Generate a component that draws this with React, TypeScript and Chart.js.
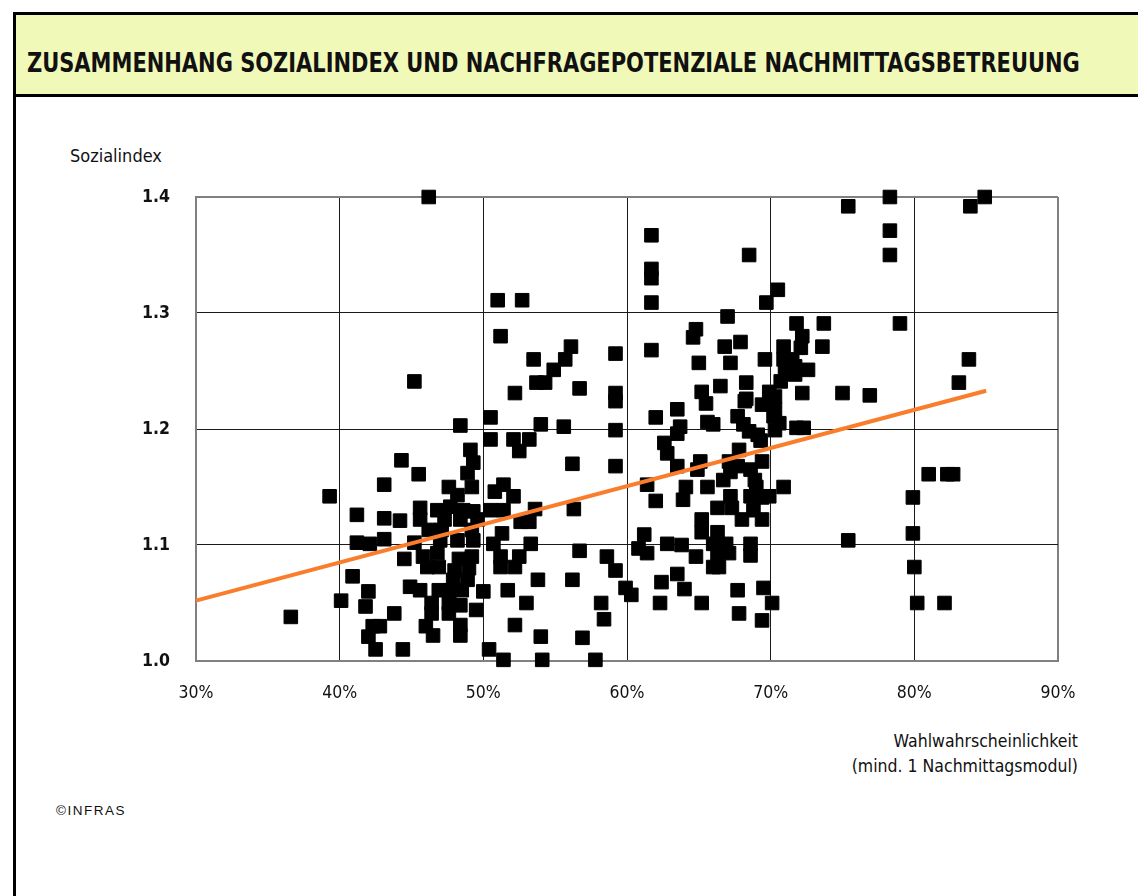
import React, { useEffect, useRef } from "react";
import { Chart, registerables } from "chart.js";

Chart.register(...registerables);

// Wahlwahrscheinlichkeit (%) per point
const xValues: number[] = [
  36.6, 39.3, 40.1, 40.9, 41.2, 41.2, 41.8, 42.0, 42.0, 42.1, 42.3, 42.5, 42.8, 43.1, 43.1, 43.1, 43.8, 44.2, 44.3, 44.4,
  44.5, 44.9, 45.2, 45.2, 45.5, 45.6, 45.6, 45.6, 45.8, 46.0, 46.1, 46.2, 46.2, 46.4, 46.4, 46.5, 46.8, 46.8, 46.9, 46.9,
  47.0, 47.1, 47.3, 47.6, 47.6, 47.6, 47.7, 47.7, 47.9, 48.0, 48.2, 48.2, 48.3, 48.4, 48.4, 48.4, 48.4, 48.4, 48.5, 48.6,
  48.9, 48.9, 49.0, 49.1, 49.2, 49.2, 49.2, 49.3, 49.3, 49.3, 49.5, 49.6, 50.0, 50.4, 50.5, 50.5, 50.5, 50.7, 50.8, 51.0,
  51.2, 51.2, 51.2, 51.3, 51.4, 51.4, 51.4, 51.7, 52.1, 52.1, 52.2, 52.2, 52.2, 52.5, 52.5, 52.6, 52.7, 53.0, 53.2, 53.2,
  53.3, 53.5, 53.6, 53.7, 53.8, 54.0, 54.0, 54.1, 54.3, 54.9, 55.6, 55.7, 56.1, 56.2, 56.2, 56.3, 56.7, 56.7, 56.9, 57.8,
  58.2, 58.4, 58.6, 59.2, 59.2, 59.2, 59.2, 59.2, 59.2, 59.9, 60.3, 60.8, 61.2, 61.4, 61.4, 61.7, 61.7, 61.7, 61.7, 61.7,
  62.0, 62.0, 62.3, 62.4, 62.6, 62.8, 62.8, 63.5, 63.5, 63.5, 63.5, 63.7, 63.8, 63.9, 64.0, 64.1, 64.6, 64.8, 64.8, 64.9,
  65.0, 65.1, 65.2, 65.2, 65.2, 65.2, 65.5, 65.6, 65.6, 66.0, 66.0, 66.0, 66.3, 66.3, 66.3, 66.4, 66.5, 66.7, 66.8, 66.9,
  67.0, 67.1, 67.1, 67.2, 67.2, 67.2, 67.3, 67.7, 67.7, 67.7, 67.8, 67.8, 67.9, 68.0, 68.1, 68.2, 68.3, 68.3, 68.5, 68.5,
  68.6, 68.6, 68.6, 68.6, 68.8, 68.9, 69.0, 69.1, 69.3, 69.4, 69.4, 69.4, 69.4, 69.4, 69.5, 69.6, 69.7, 69.9, 69.9, 70.1,
  70.2, 70.3, 70.3, 70.3, 70.5, 70.6, 70.7, 70.9, 70.9, 70.9, 71.0, 71.5, 71.7, 71.7, 71.8, 71.8, 72.1, 72.2, 72.2, 72.3,
  72.6, 73.6, 73.7, 75.0, 75.4, 75.4, 76.9, 78.3, 78.3, 78.3, 79.0, 79.9, 79.9, 80.0, 80.2, 81.0, 82.1, 82.3, 82.7, 83.1,
  83.8, 83.9, 84.9,
];

// Sozialindex per point
const yValues: number[] = [
  1.038, 1.142, 1.052, 1.073, 1.126, 1.102, 1.047, 1.060, 1.021, 1.101, 1.030, 1.010, 1.030, 1.152, 1.123, 1.105, 1.041, 1.121, 1.173, 1.010,
  1.088, 1.064, 1.241, 1.102, 1.161, 1.132, 1.122, 1.061, 1.090, 1.030, 1.081, 1.113, 1.400, 1.050, 1.041, 1.022, 1.130, 1.093, 1.081, 1.061,
  1.104, 1.113, 1.122, 1.150, 1.050, 1.041, 1.133, 1.061, 1.070, 1.078, 1.143, 1.104, 1.088, 1.203, 1.122, 1.048, 1.031, 1.022, 1.061, 1.130,
  1.162, 1.070, 1.080, 1.182, 1.150, 1.113, 1.090, 1.171, 1.129, 1.104, 1.044, 1.122, 1.060, 1.010, 1.210, 1.191, 1.130, 1.101, 1.146, 1.311,
  1.280, 1.090, 1.081, 1.110, 1.152, 1.130, 1.001, 1.061, 1.191, 1.142, 1.231, 1.081, 1.031, 1.181, 1.090, 1.120, 1.311, 1.050, 1.191, 1.120,
  1.101, 1.260, 1.131, 1.240, 1.070, 1.204, 1.021, 1.001, 1.240, 1.251, 1.202, 1.260, 1.271, 1.170, 1.070, 1.131, 1.235, 1.095, 1.020, 1.001,
  1.050, 1.036, 1.090, 1.265, 1.231, 1.224, 1.199, 1.168, 1.078, 1.063, 1.057, 1.097, 1.109, 1.093, 1.152, 1.367, 1.338, 1.330, 1.309, 1.268,
  1.210, 1.138, 1.050, 1.068, 1.188, 1.179, 1.101, 1.217, 1.196, 1.168, 1.075, 1.202, 1.100, 1.139, 1.062, 1.150, 1.279, 1.286, 1.090, 1.165,
  1.257, 1.172, 1.232, 1.111, 1.050, 1.122, 1.222, 1.206, 1.150, 1.204, 1.101, 1.081, 1.132, 1.111, 1.092, 1.081, 1.237, 1.156, 1.271, 1.101,
  1.297, 1.172, 1.093, 1.257, 1.163, 1.142, 1.132, 1.211, 1.061, 1.168, 1.182, 1.041, 1.275, 1.122, 1.204, 1.224, 1.240, 1.226, 1.350, 1.198,
  1.165, 1.142, 1.101, 1.091, 1.130, 1.156, 1.150, 1.195, 1.190, 1.122, 1.221, 1.172, 1.035, 1.141, 1.063, 1.260, 1.309, 1.142, 1.232, 1.050,
  1.211, 1.217, 1.228, 1.199, 1.320, 1.205, 1.241, 1.271, 1.260, 1.150, 1.248, 1.260, 1.254, 1.247, 1.291, 1.201, 1.270, 1.280, 1.231, 1.201,
  1.251, 1.271, 1.291, 1.231, 1.392, 1.104, 1.229, 1.400, 1.371, 1.350, 1.291, 1.141, 1.110, 1.081, 1.050, 1.161, 1.050, 1.161, 1.161, 1.240,
  1.260, 1.392, 1.400,
];

// Linear trend line end points
const trendX: number[] = [30, 85];
const trendY: number[] = [1.052, 1.233];

const xTickValues: number[] = [30, 40, 50, 60, 70, 80, 90];
const yTickValues: number[] = [1.0, 1.1, 1.2, 1.3, 1.4];

const TITLE = "ZUSAMMENHANG SOZIALINDEX UND NACHFRAGEPOTENZIALE NACHMITTAGSBETREUUNG";
const COND = '"DejaVu Sans Condensed", "Liberation Sans Narrow", "DejaVu Sans", sans-serif';

function ScatterChart() {
  const ref = useRef<HTMLCanvasElement | null>(null);
  useEffect(() => {
    if (!ref.current) return;
    const points = xValues.map((x, i) => ({ x, y: yValues[i] }));
    const trend = trendX.map((x, i) => ({ x, y: trendY[i] }));
    const isEdge = (ctx: any, min: number, max: number) => {
      const v = ctx.tick ? ctx.tick.value : NaN;
      return Math.abs(v - min) < 1e-6 || Math.abs(v - max) < 1e-6;
    };
    const chart = new Chart(ref.current, {
      type: "scatter",
      data: {
        datasets: [
          {
            type: "line",
            data: trend,
            borderColor: "#fa7d2c",
            borderWidth: 4,
            pointRadius: 0,
            fill: false,
            order: 0,
            clip: false,
          } as any,
          {
            data: points,
            pointStyle: "rect",
            pointRadius: 9.6,
            pointBackgroundColor: "#000",
            pointBorderColor: "#000",
            pointBorderWidth: 1,
            order: 1,
            clip: false,
          } as any,
        ],
      },
      options: {
        responsive: false,
        animation: false,
        events: [],
        layout: { autoPadding: false, padding: { top: 17, right: 22, left: 0, bottom: 0 } },
        plugins: { legend: { display: false }, tooltip: { enabled: false } },
        scales: {
          x: {
            type: "linear",
            min: 30,
            max: 90,
            afterFit: (s: any) => {
              s.height = 59;
              s.paddingLeft = 0;
              s.paddingRight = 0;
              s.paddingTop = 0;
              s.paddingBottom = 0;
            },
            afterBuildTicks: (s: any) => {
              s.ticks = xTickValues.map((v) => ({ value: v }));
            },
            ticks: {
              autoSkip: false,
              maxRotation: 0,
              padding: 22,
              color: "#111",
              font: { family: COND, size: 17.5 },
              callback: (v: any) => `${v}%`,
            },
            grid: {
              drawTicks: false,
              color: (c: any) => (isEdge(c, 30, 90) ? "#808080" : "#1a1a1a"),
              lineWidth: (c: any) => (isEdge(c, 30, 90) ? 2 : 1),
            },
            border: { display: true, color: "#808080", width: 2 },
          },
          y: {
            type: "linear",
            min: 1.0,
            max: 1.4,
            afterFit: (s: any) => {
              s.width = 96;
              s.paddingLeft = 0;
              s.paddingRight = 0;
              s.paddingTop = 0;
              s.paddingBottom = 0;
            },
            afterBuildTicks: (s: any) => {
              s.ticks = yTickValues.map((v) => ({ value: v }));
            },
            ticks: {
              padding: 26,
              color: "#111",
              font: { family: COND, size: 17.5, weight: "bold" },
              callback: (v: any) => Number(v).toFixed(1),
            },
            grid: {
              drawTicks: false,
              color: (c: any) => (isEdge(c, 1.0, 1.4) ? "#808080" : "#1a1a1a"),
              lineWidth: (c: any) => (isEdge(c, 1.0, 1.4) ? 2 : 1),
            },
            border: { display: true, color: "#808080", width: 2 },
          },
        },
      },
    } as any);
    return () => chart.destroy();
  }, []);
  return (
    <canvas
      ref={ref}
      width={980}
      height={540}
      style={{ position: "absolute", left: 100, top: 180, width: 980, height: 540 }}
    />
  );
}

function Title() {
  const ref = useRef<HTMLDivElement | null>(null);
  useEffect(() => {
    const el = ref.current;
    if (!el) return;
    el.style.transform = "none";
    const w = el.offsetWidth;
    if (w > 0) el.style.transform = `scaleX(${1053 / w})`;
  }, []);
  return (
    <div
      ref={ref}
      style={{
        position: "absolute",
        left: 27,
        top: 49,
        fontFamily: COND,
        fontWeight: "bold",
        fontSize: 27,
        lineHeight: "27px",
        color: "#111",
        whiteSpace: "nowrap",
        transformOrigin: "0 0",
      }}
    >
      {TITLE}
    </div>
  );
}

export default function App() {
  return (
    <div style={{ position: "absolute", left: 0, top: 0, width: 1138, height: 896, overflow: "hidden", background: "#fff" }}>
      <div
        style={{
          position: "absolute",
          left: 13,
          top: 12,
          width: 1200,
          height: 1000,
          border: "3px solid #000",
          boxSizing: "border-box",
        }}
      />
      <div
        style={{
          position: "absolute",
          left: 16,
          top: 15,
          width: 1200,
          height: 79,
          background: "#f1f9b9",
          borderBottom: "3px solid #000",
        }}
      />
      <Title />
      <div
        style={{
          position: "absolute",
          left: 70,
          top: 146,
          fontFamily: COND,
          fontSize: 18,
          lineHeight: "20px",
          color: "#111",
        }}
      >
        Sozialindex
      </div>
      <ScatterChart />
      <div
        style={{
          position: "absolute",
          left: 678,
          top: 729,
          width: 400,
          textAlign: "right",
          fontFamily: COND,
          fontSize: 17.5,
          lineHeight: "25px",
          color: "#111",
        }}
      >
        <div>Wahlwahrscheinlichkeit</div>
        <div>(mind. 1 Nachmittagsmodul)</div>
      </div>
      <div
        style={{
          position: "absolute",
          left: 56,
          top: 803,
          fontFamily: '"Liberation Sans", Arial, sans-serif',
          fontSize: 13.5,
          letterSpacing: "1.5px",
          lineHeight: "16px",
          color: "#111",
        }}
      >
        ©INFRAS
      </div>
    </div>
  );
}
